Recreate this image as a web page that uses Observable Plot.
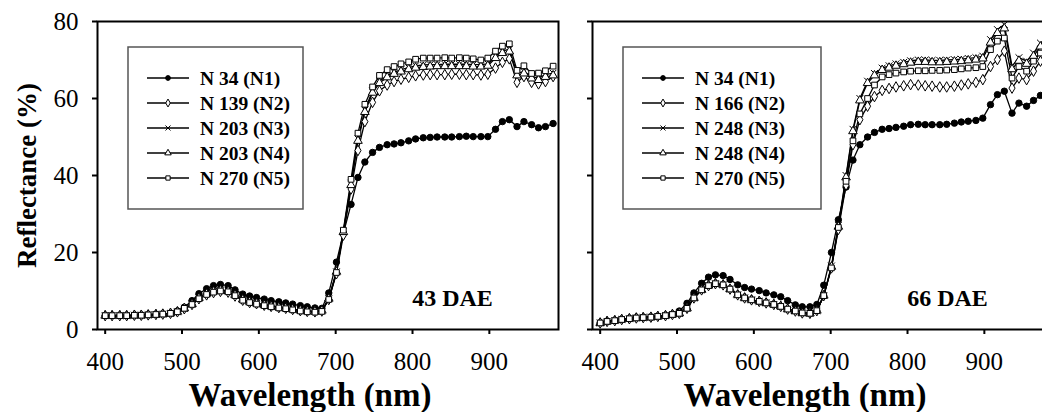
<!DOCTYPE html>
<html><head><meta charset="utf-8">
<script src="https://cdn.jsdelivr.net/npm/d3@7"></script>
<script src="https://cdn.jsdelivr.net/npm/@observablehq/plot@0.6"></script>
<style>
html,body{margin:0;padding:0;background:#fff;width:1042px;height:412px;overflow:hidden;}
#wrap{position:relative;width:1042px;height:412px;overflow:hidden;background:#fff;}
.panel{position:absolute;top:0;}
</style></head><body><div id="wrap"></div>
<script>
const wavelengths = [400,409,419,428,438,447,456,466,475,485,
  494,503,513,522,532,541,550,560,569,579,
  588,597,607,616,626,635,644,654,663,673,
  682,691,701,710,720,729,738,748,757,767,
  776,785,795,804,814,823,832,842,851,861,
  870,879,889,898,908,917,926,936,945,955,
  964,973,983];

const seriesNames = ["N1","N2","N3","N4","N5"];
const labels43 = ["N 34 (N1)","N 139 (N2)","N 203 (N3)","N 203 (N4)","N 270 (N5)"];
const labels66 = ["N 34 (N1)","N 166 (N2)","N 248 (N3)","N 248 (N4)","N 270 (N5)"];
const panelTitles = ["43 DAE","66 DAE"];
const yTicks = [0,20,40,60,80];
const xTicks = [400,500,600,700,800,900];

// 43 DAE
const n1_43 = [3.6,3.6,3.6,3.6,3.7,3.7,3.8,3.9,4.0,4.2,
  4.8,5.8,7.5,9.3,10.6,11.4,11.7,11.4,10.3,9.2,
  8.7,8.3,7.9,7.5,7.2,6.9,6.6,6.2,5.9,5.6,
  5.5,9.5,17.5,25.0,32.5,39.5,43.5,46.0,47.3,48.0,
  48.2,48.5,49.0,49.5,49.8,49.9,50.0,50.0,50.0,50.1,
  50.2,50.1,50.1,50.1,52.0,54.0,54.5,52.7,54.0,53.2,
  52.4,52.7,53.5];
const n2_43 = [3.6,3.6,3.6,3.6,3.7,3.7,3.8,3.9,4.0,4.2,
  4.6,5.4,6.5,8.0,9.0,9.6,9.9,9.7,8.7,7.6,
  7.0,6.7,6.3,6.0,5.7,5.5,5.2,4.9,4.7,4.6,
  4.8,7.8,14.5,24.5,36.5,46.5,54.0,59.0,62.0,63.5,
  64.4,65.0,65.5,65.9,66.1,66.2,66.2,66.2,66.3,66.3,
  66.2,66.2,66.1,66.3,67.9,69.4,70.3,64.2,65.7,64.2,
  63.8,64.4,65.7];
const n3_43 = [3.6,3.6,3.6,3.6,3.7,3.7,3.8,3.9,4.0,4.2,
  4.6,5.5,6.6,8.2,9.3,9.9,10.2,10.0,9.0,7.8,
  7.2,6.8,6.4,6.1,5.8,5.6,5.3,5.0,4.8,4.7,
  4.9,8.0,15.0,25.5,38.0,49.5,57.0,62.0,64.5,66.0,
  66.8,67.5,68.0,68.5,68.7,68.8,68.8,68.9,68.9,68.9,
  68.9,68.8,68.8,69.0,71.0,72.3,72.8,66.6,67.0,65.7,
  65.3,66.2,66.6];
const n4_43 = [3.6,3.6,3.6,3.6,3.7,3.7,3.8,3.9,4.0,4.2,
  4.6,5.5,6.6,8.2,9.3,9.9,10.2,10.0,9.0,7.8,
  7.2,6.8,6.4,6.1,5.8,5.6,5.3,5.0,4.8,4.7,
  4.9,8.0,15.0,25.3,37.5,49.0,56.5,61.5,64.0,65.5,
  66.4,67.0,67.6,68.0,68.2,68.3,68.4,68.4,68.4,68.4,
  68.4,68.3,68.3,68.5,70.5,71.8,72.2,66.0,66.5,65.2,
  64.8,65.6,66.0];
const n5_43 = [3.6,3.6,3.6,3.6,3.7,3.7,3.8,3.9,4.0,4.2,
  4.6,5.5,6.5,8.0,9.1,9.7,10.0,9.8,8.8,7.6,
  7.0,6.6,6.2,5.9,5.6,5.4,5.1,4.8,4.6,4.5,
  4.7,7.8,14.8,25.8,39.0,51.0,58.5,63.0,66.0,67.5,
  68.3,69.0,69.5,70.2,70.5,70.5,70.5,70.6,70.5,70.6,
  70.5,70.3,70.0,70.5,72.3,73.6,74.2,67.3,68.5,66.5,
  66.6,67.2,68.4];

// 66 DAE
const n1_66 = [1.7,2.1,2.3,2.6,2.8,3.0,3.1,3.2,3.4,3.6,
  3.9,4.8,6.8,9.5,12.0,13.6,14.2,14.0,13.0,11.6,
  10.9,10.5,10.1,9.5,9.0,8.5,7.5,6.4,5.9,5.9,
  6.5,11.5,20.0,28.5,37.0,44.0,48.0,50.0,51.2,52.0,
  52.2,52.5,52.8,53.2,53.3,53.2,53.2,53.2,53.3,53.6,
  53.9,54.1,54.3,54.9,58.4,61.0,61.9,56.2,58.8,58.0,
  59.5,60.8,61.5];
const n2_66 = [1.7,2.1,2.3,2.6,2.8,3.0,3.1,3.2,3.4,3.6,
  3.9,4.2,5.5,8.2,10.3,11.4,11.9,11.6,10.5,9.0,
  8.2,7.7,7.3,6.9,6.5,6.0,5.3,4.8,4.3,4.2,
  4.9,8.8,16.0,26.0,37.5,48.0,54.5,58.0,60.5,62.1,
  62.6,63.0,63.3,63.6,63.5,63.3,63.2,63.0,63.0,63.2,
  63.5,63.8,64.2,64.9,68.3,70.1,72.3,62.7,65.3,64.9,
  67.1,69.7,71.0];
const n3_66 = [1.7,2.1,2.3,2.6,2.8,3.0,3.1,3.2,3.4,3.6,
  3.9,4.2,5.5,8.2,10.3,11.4,11.9,11.6,10.5,9.0,
  8.2,7.7,7.3,6.9,6.5,6.0,5.3,4.8,4.3,4.2,
  4.9,8.8,16.5,27.0,40.0,52.0,60.0,64.5,66.5,67.9,
  68.5,69.0,69.4,69.8,70.0,70.0,69.9,69.9,70.0,70.1,
  70.2,70.4,70.6,71.0,75.3,77.9,79.2,68.4,70.6,69.7,
  71.8,74.4,76.0];
const n4_66 = [1.7,2.1,2.3,2.6,2.8,3.0,3.1,3.2,3.4,3.6,
  3.9,4.2,5.5,8.2,10.3,11.4,11.9,11.6,10.5,9.0,
  8.2,7.7,7.3,6.9,6.5,6.0,5.3,4.8,4.3,4.2,
  4.9,8.8,16.3,26.7,39.5,51.5,59.5,64.0,66.0,67.4,
  68.0,68.5,68.9,69.3,69.5,69.5,69.4,69.4,69.5,69.6,
  69.7,69.9,70.1,70.4,74.5,77.0,78.2,67.6,69.8,69.0,
  71.0,73.5,75.2];
const n5_66 = [1.7,2.1,2.3,2.6,2.8,3.0,3.1,3.2,3.4,3.6,
  3.9,4.2,5.5,8.2,10.3,11.4,11.9,11.6,10.5,9.0,
  8.2,7.7,7.3,6.9,6.5,6.0,5.3,4.8,4.3,4.2,
  4.9,8.8,16.0,26.5,38.5,49.0,56.0,60.0,63.5,65.6,
  66.2,66.6,66.9,67.1,67.2,67.2,67.3,67.3,67.4,67.5,
  67.7,67.9,68.0,68.3,72.7,74.9,75.7,65.3,68.3,67.1,
  69.7,71.8,73.0];

const symbolOf = {N1:"circle", N2:"diamond", N3:"times", N4:"triangle", N5:"square"};
const fillOf = {N1:"black", N2:"white", N3:"none", N4:"white", N5:"white"};
const d3Sym = {circle:d3.symbolCircle, diamond:d3.symbolDiamond, times:d3.symbolTimes, triangle:d3.symbolTriangle, square:d3.symbolSquare};

const FONT = "'Liberation Serif','Times New Roman',serif";
const ML = 97, MT = 21, MB = 83, W = 560, H = 412;

function makePanel(series, labels, title, showY, legendW) {
  const rows = [];
  seriesNames.forEach((s, k) => wavelengths.forEach((w, i) => rows.push({w, v: series[k][i], s})));
  const marks = [
    Plot.axisY({ticks: yTicks, tickSize: 5, tickPadding: 14, label: null, strokeWidth: 2, fontSize: 25,
      tickFormat: showY ? (d => String(d)) : (() => "")}),
    Plot.axisX({ticks: xTicks, tickSize: 5, tickPadding: 18, label: null, strokeWidth: 2, fontSize: 25}),
  ];
  seriesNames.forEach(s => marks.push(Plot.line(rows.filter(d => d.s === s), {x: "w", y: "v", stroke: "black", strokeWidth: 1.3})));
  seriesNames.forEach(s => marks.push(Plot.dot(rows.filter(d => d.s === s), {x: "w", y: "v", symbol: symbolOf[s], r: 3.2, stroke: "black", strokeWidth: 1, fill: fillOf[s]})));
  marks.push(Plot.frame({stroke: "black", strokeWidth: 2}));
  marks.push(Plot.text([title], {frameAnchor: "bottom-left", dx: 355, dy: -31, fontSize: 24, fontWeight: "bold", textAnchor: "middle", lineAnchor: "middle"}));
  marks.push(Plot.text(["Wavelength (nm)"], {frameAnchor: "bottom", dx: -18, dy: 66, fontSize: 33, fontWeight: "bold", textAnchor: "middle", lineAnchor: "middle"}));
  if (showY) marks.push(Plot.text(["Reflectance (%)"], {frameAnchor: "left", dx: -70, rotate: -90, fontSize: 27, fontWeight: "bold", textAnchor: "middle", lineAnchor: "middle"}));
  const svg = Plot.plot({
    width: W, height: H,
    marginLeft: ML, marginRight: 2, marginTop: MT, marginBottom: MB,
    x: {domain: [390, 990]},
    y: {domain: [0, 80]},
    style: {fontFamily: FONT, background: "transparent", color: "black", overflow: "visible"},
    marks
  });
  // legend
  const g = d3.select(svg).append("g").attr("font-family", FONT).attr("text-anchor", "start");
  const bx = ML + 31, by = 47;
  g.append("rect").attr("x", bx).attr("y", by).attr("width", legendW).attr("height", 162)
    .attr("fill", "white").attr("stroke", "#555").attr("stroke-width", 1.5);
  seriesNames.forEach((s, k) => {
    const yy = 78 + k * 25;
    g.append("line").attr("x1", ML + 50).attr("x2", ML + 92).attr("y1", yy).attr("y2", yy)
      .attr("stroke", "black").attr("stroke-width", 1.3);
    g.append("path").attr("d", d3.symbol(d3Sym[symbolOf[s]], Math.PI * 2.4 * 2.4)())
      .attr("transform", `translate(${ML + 71},${yy})`)
      .attr("fill", fillOf[s]).attr("stroke", "black").attr("stroke-width", 1);
    g.append("text").attr("x", ML + 103).attr("y", yy).attr("dy", "0.35em")
      .attr("text-anchor", "start")
      .attr("font-size", 19.5).attr("font-weight", "bold").text(labels[k]);
  });
  return svg;
}

const wrap = document.getElementById("wrap");
const p1 = makePanel([n1_43, n2_43, n3_43, n4_43, n5_43], labels43, panelTitles[0], true, 175);
p1.classList.add("panel"); p1.style.left = "0px";
const p2 = makePanel([n1_66, n2_66, n3_66, n4_66, n5_66], labels66, panelTitles[1], false, 198);
p2.classList.add("panel"); p2.style.left = "495px";
wrap.appendChild(p1);
wrap.appendChild(p2);
</script></body></html>
